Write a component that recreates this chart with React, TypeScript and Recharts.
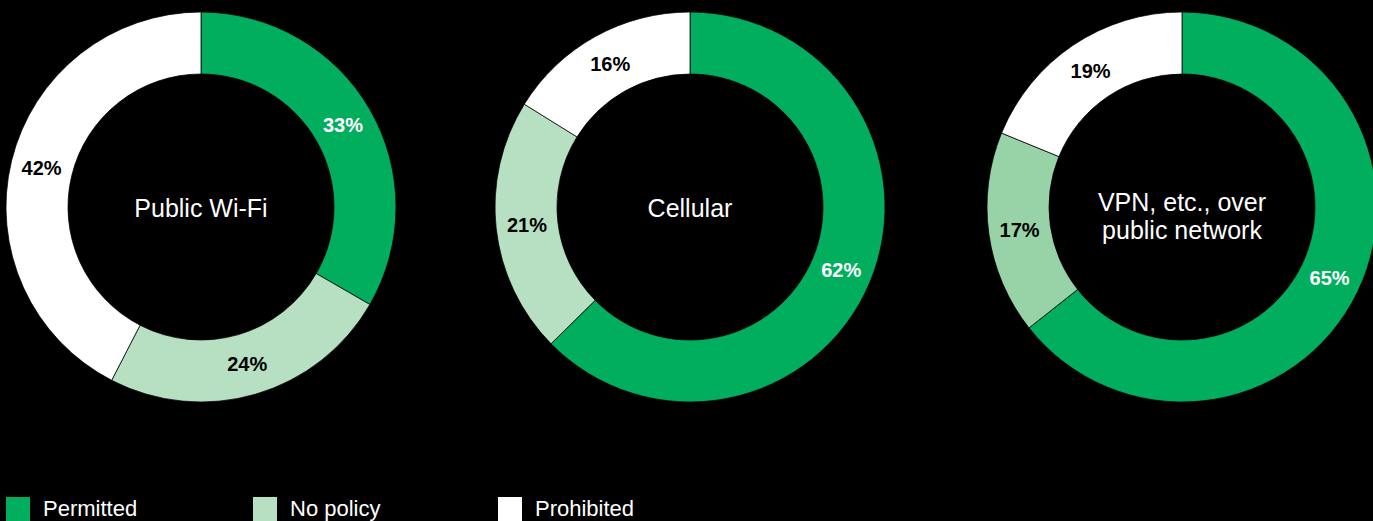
import React from 'react';
import { PieChart, Pie, Cell, Label } from 'recharts';

const CATEGORIES = ['Permitted', 'No policy', 'Prohibited'];
const CHART_TITLES = [['Public Wi-Fi'], ['Cellular'], ['VPN, etc., over', 'public network']];
const PUBLIC_WIFI = [33, 24, 42];
const CELLULAR = [62, 21, 16];
const VPN_PUBLIC = [65, 17, 19];
const SERIES = [PUBLIC_WIFI, CELLULAR, VPN_PUBLIC];

const GREEN = '#00ae5d';
const LIGHT = '#b7e0c2';
const LIGHT_DARKER = '#98d2a7';
const PALETTES = [
  [GREEN, LIGHT, '#ffffff'],
  [GREEN, LIGHT, '#ffffff'],
  [GREEN, LIGHT_DARKER, '#ffffff'],
];
const LEGEND_COLORS = [GREEN, LIGHT, '#ffffff'];
const LABEL_COLORS = ['#ffffff', '#000000', '#000000'];
const CENTERS_X = [201, 690, 1182];
const CENTER_Y = 207;
const FONT = '"Liberation Sans", Arial, Helvetica, sans-serif';

const RAD = Math.PI / 180;

const renderPct = (props: any) => {
  const { cx, cy, midAngle, innerRadius, outerRadius, value, index } = props;
  const r = (innerRadius + outerRadius) / 2;
  const x = cx + r * Math.cos(-midAngle * RAD);
  const y = cy + r * Math.sin(-midAngle * RAD);
  return (
    <text
      x={x}
      y={y}
      fill={LABEL_COLORS[index]}
      textAnchor="middle"
      dominantBaseline="central"
      fontSize={20}
      fontWeight={700}
      fontFamily={FONT}
    >
      {`${value}%`}
    </text>
  );
};

const makeCenter = (lines: string[], cx: number, cy: number) => () => {
  const lh = 28;
  const start = lines.length > 1 ? cy - 5 : cy + 1;
  return (
    <text
      x={cx}
      y={start}
      fill="#ffffff"
      textAnchor="middle"
      dominantBaseline="central"
      fontSize={25}
      fontFamily={FONT}
    >
      {lines.map((l, i) => (
        <tspan key={i} x={cx} y={start + i * lh} dominantBaseline="central">
          {l}
        </tspan>
      ))}
    </text>
  );
};

export default function App() {
  const datasets = SERIES.map((vals) =>
    vals.map((v, i) => ({ name: CATEGORIES[i], value: v }))
  );
  return (
    <div
      style={{
        position: 'absolute',
        left: 0,
        top: 0,
        width: 1373,
        height: 521,
        background: '#000',
        overflow: 'hidden',
        fontFamily: FONT,
      }}
    >
      <PieChart
        width={1373}
        height={440}
        margin={{ top: 0, right: 0, bottom: 0, left: 0 }}
        style={{ position: 'absolute', left: 0, top: 0 }}
      >
        {datasets.map((data, k) => (
          <Pie
            key={k}
            data={data}
            dataKey="value"
            nameKey="name"
            cx={CENTERS_X[k]}
            cy={CENTER_Y}
            startAngle={90}
            endAngle={-270}
            innerRadius={133}
            outerRadius={195}
            stroke="#000"
            strokeWidth={0.75}
            isAnimationActive={false}
            labelLine={false}
            label={renderPct}
          >
            {data.map((d, i) => (
              <Cell key={i} fill={PALETTES[k][i]} />
            ))}
            <Label position="center" content={makeCenter(CHART_TITLES[k], CENTERS_X[k], CENTER_Y)} />
          </Pie>
        ))}
      </PieChart>
      {CATEGORIES.map((c, i) => (
        <div
          key={c}
          style={{
            position: 'absolute',
            left: [6, 253, 498][i],
            top: 497,
            height: 24,
            display: 'flex',
            alignItems: 'center',
          }}
        >
          <div style={{ width: 24, height: 24, background: LEGEND_COLORS[i] }} />
          <span style={{ color: '#fff', fontSize: 22, marginLeft: 13, lineHeight: '24px' }}>{c}</span>
        </div>
      ))}
    </div>
  );
}
